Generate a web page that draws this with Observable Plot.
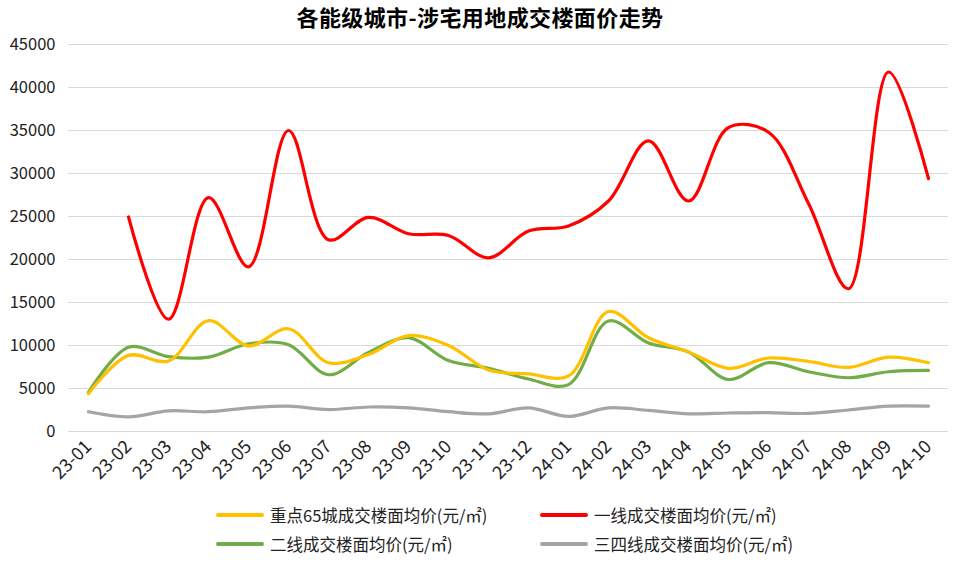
<!DOCTYPE html>
<html><head><meta charset="utf-8">
<script src="https://cdn.jsdelivr.net/npm/d3@7"></script>
<script src="https://cdn.jsdelivr.net/npm/@observablehq/plot@0.6"></script>
<style>
body{margin:0;background:#fff;font-family:"Noto Sans CJK SC","Noto Sans",sans-serif;position:relative;}
#title{position:absolute;left:0;top:0;width:960px;height:32px;line-height:32px;text-align:center;font-size:22px;font-weight:bold;color:#000;letter-spacing:0.4px;}
#legend{position:relative;height:62px;font-size:16.5px;color:#222;}
.item{position:absolute;display:flex;align-items:center;height:22px;white-space:nowrap;}
.sw{width:48px;height:4px;margin-right:6px;border-radius:2px;}
</style></head>
<body>
<div id="chart"></div>
<div id="legend"></div>
<div id="title">各能级城市-涉宅用地成交楼面价走势</div>
<script>
const months = ["23-01","23-02","23-03","23-04","23-05","23-06","23-07","23-08","23-09","23-10","23-11","23-12","24-01","24-02","24-03","24-04","24-05","24-06","24-07","24-08","24-09","24-10"];
const seriesNames = ["重点65城成交楼面均价(元/㎡)","一线成交楼面均价(元/㎡)","二线成交楼面均价(元/㎡)","三四线成交楼面均价(元/㎡)"];
const colors = ["#FFC000","#FF0000","#70AD47","#A5A5A5"];
const key65 = [4400,8850,8200,12900,9950,11950,8000,8950,11150,10000,7150,6700,6450,13950,10900,9250,7350,8550,8150,7450,8650,8000];
const tier1 = [null,24950,13050,27200,19150,35000,22300,24900,23000,22800,20200,23300,23900,26800,33800,26800,35350,34800,26500,16600,41800,29400];
const tier2 = [4550,9800,8700,8650,10200,10100,6600,9200,10900,8250,7350,6100,5450,12850,10300,9250,6050,8000,6950,6250,6950,7100];
const tier34 = [2300,1700,2400,2300,2750,2950,2550,2850,2750,2300,2050,2750,1750,2750,2450,2050,2150,2200,2100,2500,2950,2950];
const yTicks = [0,5000,10000,15000,20000,25000,30000,35000,40000,45000];

const allSeries = [key65, tier1, tier2, tier34];
const rows = [];
allSeries.forEach((vals, si) => vals.forEach((v, i) => rows.push({month: months[i], value: v, series: seriesNames[si]})));
const order = [3,2,0,1];

const chart = Plot.plot({
  width: 960, height: 500,
  marginTop: 44, marginBottom: 69, marginLeft: 68, marginRight: 12,
  style: {fontFamily: '"Noto Sans CJK SC","Noto Sans",sans-serif', fontSize: "16px", color: "#222"},
  x: {type: "point", domain: months, padding: 0.5, label: null},
  y: {domain: [0, 45000], ticks: yTicks, label: null},
  marks: [
    Plot.ruleY(yTicks, {stroke: "#d9d9d9", strokeWidth: 1}),
    Plot.axisY({ticks: yTicks, tickSize: 0, tickPadding: 13, tickFormat: d => String(d), label: null, fontSize: 16.5}),
    Plot.axisX({tickSize: 0, tickPadding: 12, tickRotate: -45, label: null, fontSize: 18}),
    ...order.map(si => Plot.line(rows.filter(r => r.series === seriesNames[si]), {
      x: "month", y: "value", stroke: colors[si], strokeWidth: 3.2, curve: "catmull-rom"
    }))
  ]
});
document.getElementById("chart").appendChild(chart);

const legend = document.getElementById("legend");
const pos = [[216,4],[540,4],[216,33],[540,33]];
seriesNames.forEach((n, i) => {
  const d = document.createElement("div");
  d.className = "item";
  d.style.left = pos[i][0] + "px";
  d.style.top = pos[i][1] + "px";
  d.innerHTML = `<span class="sw" style="background:${colors[i]}"></span><span>${n}</span>`;
  legend.appendChild(d);
});
</script>
</body></html>
